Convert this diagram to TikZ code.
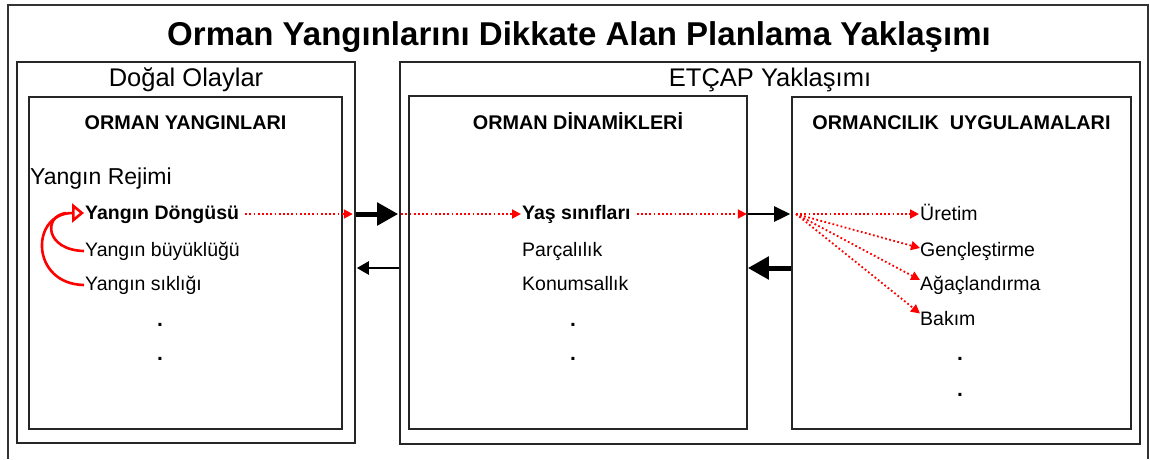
\documentclass[tikz,border=0pt]{standalone}
\usepackage{fontspec}
\setmainfont{Liberation Sans}
\usetikzlibrary{arrows.meta}
\begin{document}
\begin{tikzpicture}[x=1pt,y=-1pt,
  box/.style={draw=black!85, line width=1.6pt, inner sep=0pt},
  title/.style={font=\fontsize{33}{36}\selectfont\bfseries, anchor=base, inner sep=0pt},
  group/.style={font=\fontsize{25.5}{28}\selectfont, anchor=base, inner sep=0pt},
  head/.style={font=\fontsize{19.8}{22}\selectfont\bfseries, anchor=base, inner sep=0pt},
  item/.style={font=\fontsize{19.5}{22}\selectfont, anchor=base west, inner sep=0pt, text height=14pt, text depth=4pt},
  dotitem/.style={font=\fontsize{21}{22}\selectfont\bfseries, anchor=base, inner sep=0pt},
  reddot/.style={red, line width=1.8pt, dash pattern=on 1.8pt off 2.4pt, -{Triangle[length=9pt,width=9pt]}},
  bigarrow/.style={black, line width=5pt, -{Triangle[length=21pt,width=22pt]}},
  midarrow/.style={black, line width=2.6pt, -{Triangle[length=16pt,width=15pt]}},
  thinarrow/.style={black, line width=2.4pt, -{Triangle[length=12pt,width=13pt]}},
  cyclearrow/.style={red, line width=2.6pt, -{Triangle[open, length=12pt, width=19pt]}}
]
\useasboundingbox (0,0) rectangle (1150,459);
\fill[white] (0,0) rectangle (1150,459);
% outer frame
\draw[black!80, line width=1.2pt] (8,459) -- (8,5) -- (1148,5) -- (1148,459);
\node[title] (ttl) at (579,45.5) {Orman Yangınlarını Dikkate Alan Planlama Yaklaşımı};

% boxes
\node[box, minimum width=338pt, minimum height=381pt] (dogal) at (186,252.5) {};
\node[box, minimum width=313pt, minimum height=332pt] (fires) at (185.5,263) {};
\node[box, minimum width=740pt, minimum height=382pt] (etcap) at (770,253) {};
\node[box, minimum width=338pt, minimum height=333pt] (dinamik) at (578,262.5) {};
\node[box, minimum width=339pt, minimum height=332pt] (ormanc) at (961.5,263) {};

% headings
\node[group] (gdogal) at (186,86) {Doğal Olaylar};
\node[group] (getcap) at (770,86) {ETÇAP Yaklaşımı};
\node[head] (hfires) at (185.5,129.5) {ORMAN YANGINLARI};
\node[head] (hdin) at (578,129.5) {ORMAN DİNAMİKLERİ};
\node[head] (horm) at (961.5,129.5) {ORMANCILIK\ \ UYGULAMALARI};

% left column
\node[item, font=\fontsize{23}{25}\selectfont] (rejim) at (30,184) {Yangın Rejimi};
\node[item] (dongu) at (85,219) {\textbf{Yangın Döngüsü}};
\node[item] (buyuk) at (85,256) {Yangın büyüklüğü};
\node[item] (sikl) at (85,290) {Yangın sıklığı};
\node[dotitem] (ld1) at (160,326) {.};
\node[dotitem] (ld2) at (160,360) {.};

% middle column
\node[item] (yas) at (522,219) {\textbf{Yaş sınıfları}};
\node[item] (parca) at (522,256) {Parçalılık};
\node[item] (konum) at (522,290) {Konumsallık};
\node[dotitem] (md1) at (573,326) {.};
\node[dotitem] (md2) at (573,360) {.};

% right column
\node[item] (uretim) at (920,220.5) {Üretim};
\node[item] (genc) at (920,256) {Gençleştirme};
\node[item] (agac) at (920,290) {Ağaçlandırma};
\node[item] (bakim) at (920,325.5) {Bakım};
\node[dotitem] (rd1) at (960,360) {.};
\node[dotitem] (rd2) at (960,396) {.};

% cycle arrows
\coordinate (ctip) at (84,213);
\draw[red, line width=2.6pt] ([xshift=-1pt]buyuk.west) .. controls (45,250) and (43,216) .. (66,213);
\draw[cyclearrow] ([xshift=-1pt]sikl.west) .. controls (30,284) and (30,213) .. (ctip);

% red dotted flows
\coordinate (d1) at ([xshift=-3pt]dogal.east |- dongu.east);
\draw[reddot] ([xshift=6pt]dongu.east) -- (d1);
\coordinate (e1) at ([xshift=2pt]etcap.west |- yas.west);
\draw[reddot] (e1) -- ([xshift=-1pt]yas.west);
\coordinate (d2) at ([xshift=-1pt]dinamik.east |- yas.east);
\draw[reddot] ([xshift=6pt]yas.east) -- (d2);

% black arrows between boxes
\draw[bigarrow] (dogal.east |- dongu.east) -- ([xshift=-1pt]etcap.west |- dongu.east);
\coordinate (low1) at (0,268);
\draw[thinarrow] (etcap.west |- low1) -- ([xshift=1pt]dogal.east |- low1);
\draw[midarrow] (dinamik.east |- yas.east) -- ([xshift=-1pt]ormanc.west |- yas.east);
\draw[bigarrow] (ormanc.west |- low1) -- (dinamik.east |- low1);

% fan
\coordinate (fan) at (796,214);
\draw[reddot] (fan) -- ([xshift=-1pt,yshift=1.5pt]uretim.west);
\draw[reddot] (fan) -- ([yshift=3pt]genc.west);
\draw[reddot] (fan) -- ([yshift=5pt]agac.west);
\draw[reddot] (fan) -- ([yshift=7pt]bakim.west);
\end{tikzpicture}
\end{document}
